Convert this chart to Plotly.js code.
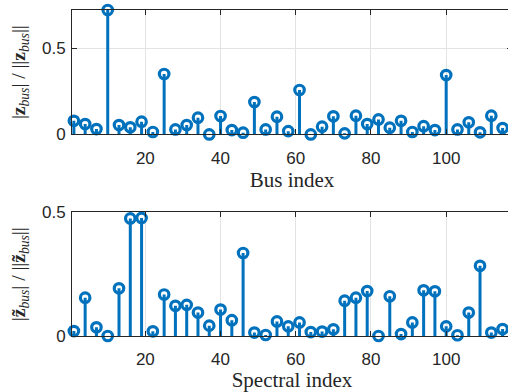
<!DOCTYPE html>
<html>
<head>
<meta charset="utf-8">
<script src="https://cdn.plot.ly/plotly-3.0.1.min.js"></script>
<style>
html,body{margin:0;padding:0;overflow:hidden;background:#fff;}
#chart{width:513px;height:392px;}
</style>
</head>
<body>
<div id="chart"></div>
<script>
const busIndex = [1,4,7,10,13,16,19,22,25,28,31,34,37,40,43,46,49,52,55,58,61,64,67,70,73,76,79,82,85,88,91,94,97,100,103,106,109,112,115];
const busMagnitude = [0.079,0.060,0.031,0.723,0.054,0.041,0.074,0.014,0.351,0.029,0.054,0.097,0.000,0.107,0.025,0.010,0.188,0.029,0.103,0.019,0.258,0.000,0.045,0.105,0.006,0.109,0.060,0.087,0.039,0.079,0.014,0.048,0.025,0.345,0.029,0.070,0.012,0.109,0.037];
const spectralIndex = [1,4,7,10,13,16,19,22,25,28,31,34,37,40,43,46,49,52,55,58,61,64,67,70,73,76,79,82,85,88,91,94,97,100,103,106,109,112,115];
const spectralMagnitude = [0.020,0.155,0.035,0.000,0.193,0.476,0.478,0.019,0.168,0.122,0.126,0.095,0.042,0.107,0.064,0.336,0.014,0.004,0.059,0.039,0.055,0.016,0.018,0.027,0.143,0.155,0.182,0.000,0.161,0.008,0.055,0.185,0.181,0.039,0.003,0.095,0.284,0.014,0.028];
const xTicks = [20,40,60,80,100];
const yTicks = [0,0.5];
const yTickText = ['0','0.5'];

const blue = '#0072BD';
function stems(xs, ys, xa, ya){
  const sx=[], sy=[];
  xs.forEach((x,i)=>{sx.push(x,x,null); sy.push(0,ys[i],null);});
  return [
    {x:sx,y:sy,xaxis:xa,yaxis:ya,mode:'lines',line:{color:blue,width:3},hoverinfo:'skip',showlegend:false},
    {x:xs,y:ys,xaxis:xa,yaxis:ya,mode:'markers',cliponaxis:false,
     marker:{symbol:'circle-open',size:9.5,color:blue,line:{width:3.2,color:blue}},showlegend:false}
  ];
}
const data = [...stems(busIndex,busMagnitude,'x','y'), ...stems(spectralIndex,spectralMagnitude,'x2','y2')];

const axisCommon = {
  showline:true, linecolor:'#262626', linewidth:1, mirror:'ticks',
  ticks:'inside', ticklen:5, tickcolor:'#262626', tickwidth:1,
  showgrid:true, gridcolor:'#e3e3e3', gridwidth:1, zeroline:false,
  tickfont:{family:'Liberation Sans, Arial, sans-serif', size:17, color:'#262626'}
};
const titleFont = {family:'Liberation Serif, Times New Roman, serif', size:21, color:'#262626'};
const xAx = (anchor, title) => Object.assign({}, axisCommon, {
  anchor:anchor, range:[0.5,117.5], tickvals:xTicks, ticktext:xTicks.map(String),
  ticklabelstandoff:8,
  title:{text:title, font:titleFont, standoff:1}
});
const yAx = (anchor, domain, range, title) => Object.assign({}, axisCommon, {
  anchor:anchor, domain:domain, range:range, tickvals:yTicks, ticktext:yTickText,
  ticklabelstandoff:2,
  title:{text:title, font:{family:'Liberation Serif, Times New Roman, serif', size:19.5, color:'#262626'}, standoff:11}
});

const layout = {
  width:513, height:392,
  margin:{l:72, r:1, t:10, b:56},
  paper_bgcolor:'#ffffff', plot_bgcolor:'#ffffff',
  showlegend:false,
  xaxis: xAx('y','Bus index'),
  yaxis: yAx('x',[0.6184,1],[0,0.723],'|<b>z</b><sub><i>bus</i></sub>| / ||<b>z</b><sub><i>bus</i></sub>||'),
  xaxis2: xAx('y2','Spectral index'),
  yaxis2: yAx('x2',[0,0.3789],[0,0.5],'|<b>z\u0303</b><sub><i>bus</i></sub>| / ||<b>z\u0303</b><sub><i>bus</i></sub>||')
};
Plotly.newPlot('chart', data, layout, {displayModeBar:false, staticPlot:true});
</script>
</body>
</html>
